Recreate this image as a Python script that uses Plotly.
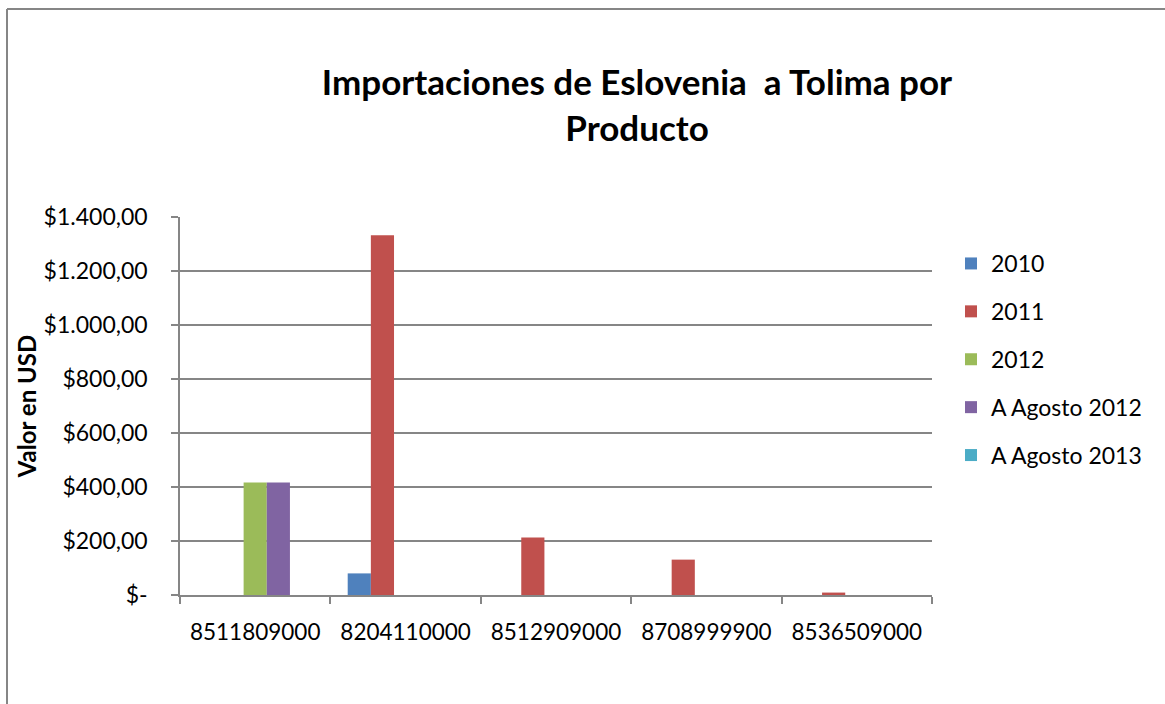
import plotly.graph_objects as go

categories = ["8511809000", "8204110000", "8512909000", "8708999900", "8536509000"]
series_names = ["2010", "2011", "2012", "A Agosto 2012", "A Agosto 2013"]
v2010 = [0, 80, 0, 0, 0]
v2011 = [0, 1332, 213, 131, 9]
v2012 = [417, 0, 0, 0, 0]
vago2012 = [417, 0, 0, 0, 0]
vago2013 = [0, 0, 0, 0, 0]
colors = ["#4F81BD", "#C0504D", "#9BBB59", "#8064A2", "#4BACC6"]
tick_vals = [0, 200, 400, 600, 800, 1000, 1200, 1400]
tick_text = ["$-", "$200,00", "$400,00", "$600,00", "$800,00", "$1.000,00", "$1.200,00", "$1.400,00"]

FONT = "Lato"
W, H = 1165, 704
L, R, T, B = 180, 1165 - 932, 217, 704 - 595

fig = go.Figure()
for i, (name, vals) in enumerate(zip(series_names, [v2010, v2011, v2012, vago2012, vago2013])):
    fig.add_trace(go.Bar(x=categories, y=vals, name=name, marker_color=colors[i],
                         marker_line_width=0, legendgroup=name))

pw, ph = W - L - R, H - T - B
def px(x):
    return (x - L) / pw
def py(y):
    return (H - B - y) / ph

gray = "#868686"
fig.update_layout(
    width=W, height=H,
    margin=dict(l=L, r=R, t=T, b=B),
    paper_bgcolor="white", plot_bgcolor="white",
    barmode="group", bargap=0.23, bargroupgap=0,
    font=dict(family=FONT, size=23, color="black"),
    title=dict(text="<b>Importaciones de Eslovenia  a Tolima por<br>Producto</b>",
               x=px(637), xref="paper", xanchor="center",
               y=1 - 95 / H, yref="container", yanchor="middle",
               font=dict(family=FONT, size=35, color="black")),
    xaxis=dict(type="category", tickson="boundaries", ticks="outside", ticklen=7,
               tickcolor=gray, tickwidth=1.5, showline=True, linecolor=gray, linewidth=1.5,
               showgrid=False, tickfont=dict(size=22.5), ticklabelstandoff=16),
    yaxis=dict(range=[0, 1400], tickvals=tick_vals, ticktext=tick_text,
               ticks="outside", ticklen=7, tickcolor=gray, tickwidth=1.5,
               showline=True, linecolor=gray, linewidth=1.5,
               showgrid=True, gridcolor=gray, gridwidth=1.5, zeroline=False,
               tickfont=dict(size=23), ticklabelstandoff=19,
               title=dict(text="<b>Valor en USD</b>", font=dict(size=24), standoff=0)),
    legend=dict(x=px(951), y=py(242), xanchor="left", yanchor="top",
                font=dict(size=23), tracegroupgap=15, itemwidth=30,
                bgcolor="rgba(0,0,0,0)"),
    shapes=[
        dict(type="line", xref="paper", yref="paper", x0=px(7), x1=px(7), y0=py(9), y1=py(710),
             line=dict(color=gray, width=2)),
        dict(type="line", xref="paper", yref="paper", x0=px(7), x1=px(1170), y0=py(9), y1=py(9),
             line=dict(color=gray, width=2)),
    ],
)

fig.write_html("out.html", config={"displayModeBar": False},
               post_script="document.body.style.margin='0px';")
